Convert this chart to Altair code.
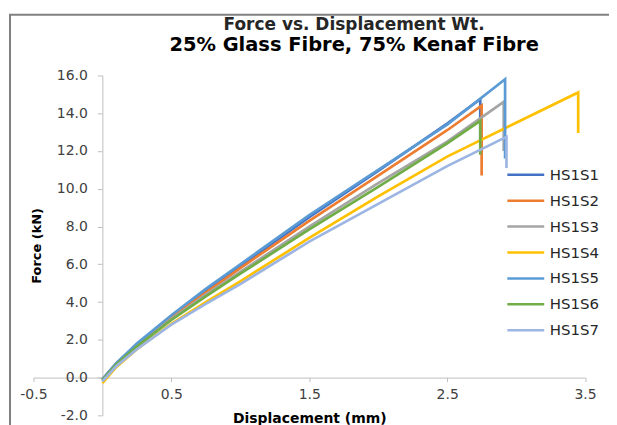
import altair as alt
import pandas as pd

# ---- data ----
series_names = ["HS1S1", "HS1S2", "HS1S3", "HS1S4", "HS1S5", "HS1S6", "HS1S7"]
series_colors = ["#4472C4", "#ED7D31", "#A5A5A5", "#FFC000", "#5B9BD5", "#70AD47", "#9DB5E3"]

hs1s1_x = [0, 0.1, 0.25, 0.5, 0.75, 1.0, 1.5, 2.0, 2.5, 2.74, 2.74]
hs1s1_y = [-0.1, 0.75, 1.75, 3.25, 4.6, 5.9, 8.5, 10.95, 13.45, 14.75, 12.6]

hs1s2_x = [0, 0.1, 0.25, 0.5, 0.75, 1.0, 1.5, 2.0, 2.5, 2.75, 2.75]
hs1s2_y = [-0.1, 0.7, 1.7, 3.2, 4.5, 5.8, 8.3, 10.7, 13.1, 14.4, 10.7]

hs1s3_x = [0, 0.1, 0.25, 0.5, 0.75, 1.0, 1.5, 2.0, 2.5, 2.91, 2.91]
hs1s3_y = [-0.15, 0.7, 1.65, 3.1, 4.4, 5.6, 8.0, 10.3, 12.5, 14.6, 12.0]

hs1s4_x = [0, 0.1, 0.25, 0.5, 0.75, 1.0, 1.5, 2.0, 2.5, 3.0, 3.45, 3.45]
hs1s4_y = [-0.3, 0.55, 1.5, 2.85, 4.0, 5.1, 7.4, 9.6, 11.7, 13.5, 15.1, 12.95]

hs1s5_x = [0, 0.1, 0.25, 0.5, 0.75, 1.0, 1.5, 2.0, 2.5, 2.92, 2.92]
hs1s5_y = [-0.1, 0.75, 1.8, 3.3, 4.7, 6.0, 8.6, 11.0, 13.4, 15.8, 11.6]

hs1s6_x = [0, 0.1, 0.25, 0.5, 0.75, 1.0, 1.5, 2.0, 2.5, 2.74, 2.74]
hs1s6_y = [-0.15, 0.7, 1.65, 3.05, 4.3, 5.5, 7.85, 10.1, 12.4, 13.6, 11.8]

hs1s7_x = [0, 0.1, 0.25, 0.5, 0.75, 1.0, 1.5, 2.0, 2.5, 2.93, 2.93]
hs1s7_y = [-0.2, 0.6, 1.5, 2.8, 3.9, 4.95, 7.2, 9.2, 11.2, 12.75, 11.1]

x_ticks = [-0.5, 0.5, 1.5, 2.5, 3.5]
y_ticks = [-2, 0, 2, 4, 6, 8, 10, 12, 14, 16]

all_x = [hs1s1_x, hs1s2_x, hs1s3_x, hs1s4_x, hs1s5_x, hs1s6_x, hs1s7_x]
all_y = [hs1s1_y, hs1s2_y, hs1s3_y, hs1s4_y, hs1s5_y, hs1s6_y, hs1s7_y]

rows = []
for name, xs, ys in zip(series_names, all_x, all_y):
    for i, (xv, yv) in enumerate(zip(xs, ys)):
        rows.append({"series": name, "idx": i, "disp": xv, "force": yv})
df = pd.DataFrame(rows)

W, H = 553.5, 341
FONT = "DejaVu Sans"

label_expr = "datum.value < 0 ? '-' + format(-datum.value, '.1f') : format(datum.value, '.1f')"

lines = alt.Chart(df).mark_line(strokeWidth=2.7).encode(
    x=alt.X("disp:Q",
            scale=alt.Scale(domain=[-0.5, 3.5], nice=False, zero=False),
            axis=alt.Axis(values=x_ticks, labelExpr=label_expr, offset=-(H * 2 / 18),
                          title="Displacement (mm)", grid=False, tickSize=4,
                          labelFlush=False, labelOverlap=False,
                          labelPadding=6, titlePadding=10)),
    y=alt.Y("force:Q",
            scale=alt.Scale(domain=[-2, 16], nice=False, zero=False),
            axis=alt.Axis(values=y_ticks, labelExpr=label_expr, offset=-(W * 0.5 / 4),
                          title="Force (kN)", grid=False, tickSize=5,
                          labelFlush=False, labelOverlap=False,
                          labelPadding=10, titlePadding=13)),
    color=alt.Color("series:N",
                    scale=alt.Scale(domain=series_names, range=series_colors),
                    legend=alt.Legend(orient="none", legendX=474, legendY=92, title=None,
                                      symbolType="stroke", symbolSize=1369,
                                      symbolStrokeWidth=2.5, labelFont=FONT,
                                      labelFontSize=15, labelColor="#262626",
                                      clipHeight=15.3, rowPadding=10,
                                      labelOffset=4, padding=0)),
    order=alt.Order("idx:Q"),
)

frame_df = pd.DataFrame({"k": [0]})
left_border = alt.Chart(frame_df).mark_rule(color="#808080", strokeWidth=2).encode(
    x=alt.value(-23.5), y=alt.value(-61), y2=alt.value(H + 20))
top_border = alt.Chart(frame_df).mark_rule(color="#808080", strokeWidth=2).encode(
    x=alt.value(-24.5), x2=alt.value(W + 50), y=alt.value(-61))

chart = alt.layer(left_border, top_border, lines).properties(
    width=W, height=H,
    autosize=alt.AutoSizeParams(type="none"),
    padding={"left": 25.5, "top": 67, "right": 24, "bottom": 10},
    title=alt.TitleParams(
        text="Force vs. Displacement Wt.",
        subtitle="25% Glass Fibre, 75% Kenaf Fibre",
        anchor="middle", dx=45, offset=-42,
        font=FONT, fontSize=17, fontWeight="bold", color="#262626",
        subtitleFont=FONT, subtitleFontSize=19.5, subtitleFontWeight="bold",
        subtitleColor="#000000", subtitlePadding=2,
    ),
).configure_view(stroke=None).configure_axis(
    labelFont=FONT, labelFontSize=14, labelColor="#404040",
    titleFont=FONT, titleFontSize=14, titleFontWeight="bold", titleColor="#000000",
    domainColor="#BFBFBF", tickColor="#BFBFBF", domainWidth=1,
).configure_axisY(titleFontSize=13)

chart.save("out.html", embed_options={"renderer": "svg", "actions": False})
